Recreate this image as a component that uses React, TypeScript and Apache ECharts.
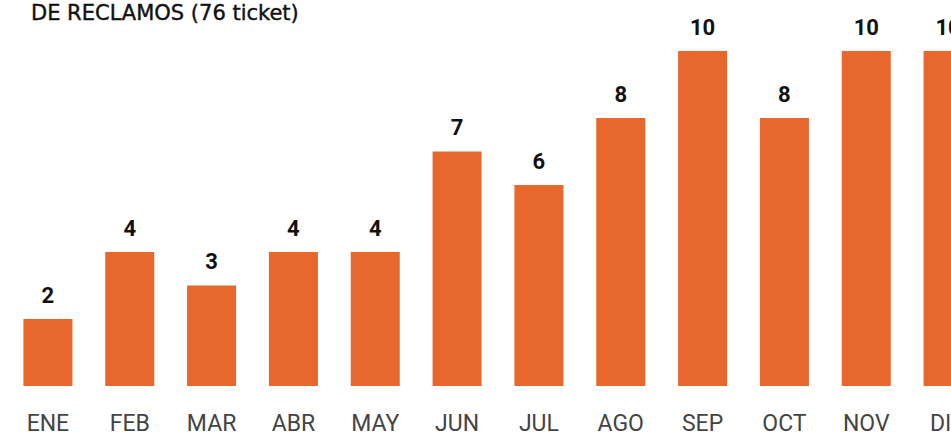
import React, { useEffect, useRef } from "react";
import * as echarts from "echarts";

const months = ["ENE", "FEB", "MAR", "ABR", "MAY", "JUN", "JUL", "AGO", "SEP", "OCT", "NOV", "DIC"];
const tickets = [2, 4, 3, 4, 4, 7, 6, 8, 10, 8, 10, 10];
const titleText = "DE RECLAMOS (76 ticket)";

export default function App() {
  const ref = useRef<HTMLDivElement>(null);
  useEffect(() => {
    const chart = echarts.init(ref.current!, null, { renderer: "svg" });
    chart.setOption({
      animation: false,
      backgroundColor: "#ffffff",
      title: {
        text: titleText,
        left: 26,
        top: -3,
        textStyle: { fontFamily: "DejaVu Sans", fontWeight: "normal", fontSize: 21, color: "#111111", textBorderColor: "#111111", textBorderWidth: 0.4 },
      },
      grid: { left: 7, width: 982, top: 51, height: 335, containLabel: false, outerBoundsMode: "none" },
      xAxis: {
        type: "category",
        data: months,
        axisLine: { show: false },
        axisTick: { show: false },
        axisLabel: {
          margin: 28,
          lineHeight: 18,
          fontFamily: "Roboto",
          fontWeight: 400,
          fontSize: 23,
          color: "#444444",
          interval: 0,
          hideOverlap: false,
        },
      },
      yAxis: {
        type: "value",
        min: 0,
        max: 10,
        show: false,
        splitLine: { show: false },
      },
      series: [
        {
          type: "bar",
          data: tickets,
          barWidth: 49,
          itemStyle: { color: "#E8672C" },
          label: {
            show: true,
            position: "top",
            distance: 13,
            fontFamily: "Roboto",
            fontWeight: "bold",
            fontSize: 22,
            color: "#111111",
          },
        },
      ],
    });
    return () => chart.dispose();
  }, []);
  return <div ref={ref} style={{ width: 951, height: 433, position: "fixed", left: 0, top: 0 }} />;
}
